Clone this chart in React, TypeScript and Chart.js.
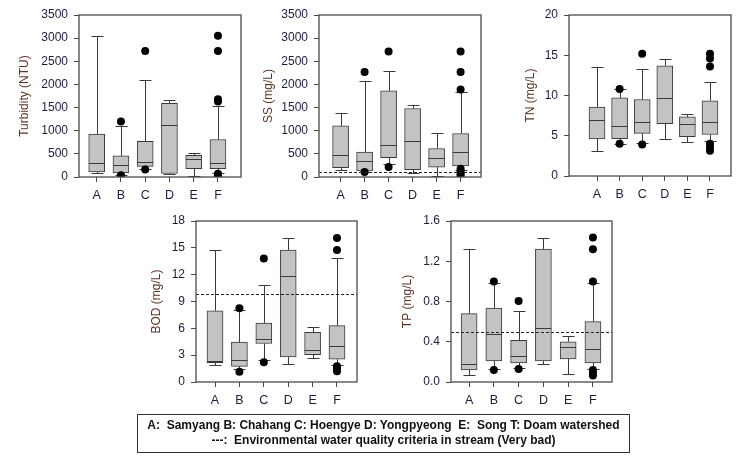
import { useEffect, useRef } from 'react';
import { Chart, registerables } from 'chart.js';

Chart.register(...registerables);

// Sampling sites along the x axis
const categories = ['A', 'B', 'C', 'D', 'E', 'F'];
const categoryPositions = [1, 2, 3, 4, 5, 6];

// Turbidity (NTU)
const turbidityLow = [80, 50, 180, 70, 20, 80];
const turbidityQ1 = [110, 90, 230, 75, 180, 180];
const turbidityMedian = [310, 270, 330, 1120, 380, 310];
const turbidityQ3 = [925, 455, 770, 1590, 470, 810];
const turbidityHigh = [3050, 1110, 2100, 1660, 520, 1540];
const turbidityOutliers = [[], [1200, 40, 15], [2720, 160], [], [], [3050, 2720, 1680, 1630, 70, 40, 10]];

// Suspended solids (mg/L)
const ssLow = [160, 110, 275, 90, 20, 145];
const ssQ1 = [200, 130, 420, 160, 215, 240];
const ssMedian = [475, 335, 690, 770, 420, 530];
const ssQ3 = [1105, 540, 1860, 1480, 615, 940];
const ssHigh = [1390, 2075, 2295, 1550, 960, 1840];
const ssOutliers = [[], [2270, 110], [2710, 215], [], [], [2710, 2270, 1890, 180, 120, 60, 20]];
const ssCriterion = 100;

// Total nitrogen (mg/L)
const tnLow = [3.1, 4.0, 4.1, 4.6, 4.2, 4.3];
const tnQ1 = [4.6, 4.65, 5.3, 6.5, 4.9, 5.15];
const tnMedian = [7.0, 6.15, 6.65, 9.7, 6.4, 6.75];
const tnQ3 = [8.55, 9.7, 9.5, 13.7, 7.35, 9.35];
const tnHigh = [13.5, 10.8, 13.3, 14.5, 7.7, 11.7];
const tnOutliers = [[], [10.8, 4.0], [15.2, 3.9], [], [], [15.2, 14.6, 13.6, 4.0, 3.5, 3.15]];

// Biochemical oxygen demand (mg/L)
const bodLow = [1.85, 1.4, 2.5, 2.05, 2.7, 1.85];
const bodQ1 = [2.15, 1.75, 4.3, 2.8, 3.05, 2.55];
const bodMedian = [2.4, 2.5, 4.8, 11.8, 3.6, 4.0];
const bodQ3 = [7.95, 4.45, 6.6, 14.75, 5.55, 6.3];
const bodHigh = [14.75, 8.0, 10.8, 16.1, 6.1, 13.85];
const bodOutliers = [[], [8.25, 1.15], [13.8, 2.2], [], [], [16.1, 14.75, 1.75, 1.45, 1.2]];
const bodCriterion = 9.8;

// Total phosphorus (mg/L)
const tpLow = [0.065, 0.13, 0.14, 0.175, 0.08, 0.13];
const tpQ1 = [0.12, 0.21, 0.19, 0.21, 0.23, 0.19];
const tpMedian = [0.175, 0.475, 0.255, 0.535, 0.345, 0.325];
const tpQ3 = [0.68, 0.735, 0.415, 1.32, 0.4, 0.6];
const tpHigh = [1.32, 0.98, 0.71, 1.435, 0.46, 0.98];
const tpOutliers = [[], [1.0, 0.12], [0.805, 0.13], [], [], [1.435, 1.32, 1.0, 0.12, 0.1, 0.065]];
const tpCriterion = 0.5;

type Stats = {
  low: number[];
  q1: number[];
  median: number[];
  q3: number[];
  high: number[];
  outliers: number[][];
};

type PanelSpec = {
  title: string;
  canvas: [number, number, number, number]; // x, y, w, h
  plot: [number, number, number, number]; // left, top, right, bottom
  titleX: number;
  xRange: [number, number];
  yMax: number;
  step: number;
  decimals: number;
  stats: Stats;
  criterion: number | null;
};

const LINE = '#3a3a3a';
const BOX_FILL = '#c3c3c3';
const TICK_COLOR = '#1c1c40';
const TITLE_COLOR = '#5e3426';
const FONT = "'Liberation Sans', Arial, sans-serif";
const BOX_WIDTH = 16;
const CAP_WIDTH = 12;

const boxWhiskerPlugin = {
  id: 'boxWhisker',
  beforeDatasetsDraw(chart: any, _args: any, opts: any) {
    const stats: Stats = opts.stats;
    const { ctx, scales } = chart;
    const xs = scales.x;
    const ys = scales.y;
    ctx.save();
    ctx.strokeStyle = LINE;
    ctx.lineWidth = 1;
    categoryPositions.forEach((pos, i) => {
      const cx = Math.round(xs.getPixelForValue(pos)) + 0.5;
      const yLow = Math.round(ys.getPixelForValue(stats.low[i])) + 0.5;
      const yHigh = Math.round(ys.getPixelForValue(stats.high[i])) + 0.5;
      const yQ1 = ys.getPixelForValue(stats.q1[i]);
      const yQ3 = ys.getPixelForValue(stats.q3[i]);
      ctx.beginPath();
      ctx.moveTo(cx, yLow);
      ctx.lineTo(cx, yQ1);
      ctx.moveTo(cx, yQ3);
      ctx.lineTo(cx, yHigh);
      ctx.moveTo(cx - CAP_WIDTH / 2, yLow);
      ctx.lineTo(cx + CAP_WIDTH / 2, yLow);
      ctx.moveTo(cx - CAP_WIDTH / 2, yHigh);
      ctx.lineTo(cx + CAP_WIDTH / 2, yHigh);
      ctx.stroke();
    });
    ctx.restore();
  },
  afterDatasetsDraw(chart: any, _args: any, opts: any) {
    const stats: Stats = opts.stats;
    const { ctx, scales, chartArea } = chart;
    const xs = scales.x;
    const ys = scales.y;
    ctx.save();
    ctx.strokeStyle = LINE;
    ctx.lineWidth = 1;
    // median lines
    categoryPositions.forEach((pos, i) => {
      const cx = xs.getPixelForValue(pos);
      const ym = Math.round(ys.getPixelForValue(stats.median[i])) + 0.5;
      ctx.beginPath();
      ctx.moveTo(cx - BOX_WIDTH / 2, ym);
      ctx.lineTo(cx + BOX_WIDTH / 2, ym);
      ctx.stroke();
    });
    // water quality criterion
    if (opts.criterion != null) {
      const yc = Math.round(ys.getPixelForValue(opts.criterion)) + 0.5;
      ctx.setLineDash([3, 2]);
      ctx.strokeStyle = '#222';
      ctx.beginPath();
      ctx.moveTo(chartArea.left, yc);
      ctx.lineTo(chartArea.right, yc);
      ctx.stroke();
      ctx.setLineDash([]);
    }
    // plot frame
    ctx.strokeStyle = '#4a4a4a';
    ctx.lineWidth = 1.3;
    ctx.strokeRect(chartArea.left, chartArea.top, chartArea.right - chartArea.left, chartArea.bottom - chartArea.top);
    ctx.restore();
  },
};

function BoxPanel({ spec }: { spec: PanelSpec }) {
  const ref = useRef<HTMLCanvasElement | null>(null);
  useEffect(() => {
    const canvas = ref.current;
    if (!canvas) return;
    const [cx, cy, cw, ch] = spec.canvas;
    const [pl, pt, pr, pb] = spec.plot;
    const padLeft = spec.titleX - 11.2 - cx;
    const s = spec.stats;
    const chart = new Chart(canvas, {
      type: 'bar',
      data: {
        datasets: [
          {
            type: 'bar',
            data: categoryPositions.map((p, i) => ({ x: p, y: [s.q1[i], s.q3[i]] })) as any,
            backgroundColor: BOX_FILL,
            borderColor: LINE,
            borderWidth: 1,
            borderSkipped: false,
            barThickness: BOX_WIDTH,
          } as any,
          {
            type: 'scatter',
            order: -1,
            data: categoryPositions.flatMap((p, i) => s.outliers[i].map((v) => ({ x: p, y: v }))),
            backgroundColor: '#000',
            borderWidth: 0,
            pointRadius: 4,
          } as any,
        ],
      },
      options: {
        animation: false,
        responsive: false,
        devicePixelRatio: 1,
        layout: {
          padding: { left: padLeft, top: pt - cy, right: cx + cw - pr, bottom: 0 },
        },
        plugins: {
          legend: { display: false },
          tooltip: { enabled: false },
          boxWhisker: { stats: s, criterion: spec.criterion },
        } as any,
        scales: {
          x: {
            type: 'linear',
            min: spec.xRange[0],
            max: spec.xRange[1],
            offset: false,
            grid: { display: true, drawOnChartArea: false, drawTicks: true, tickLength: 5, color: '#4a4a4a', offset: false },
            border: { display: false },
            afterBuildTicks: (scale: any) => {
              scale.ticks = categoryPositions.map((v) => ({ value: v }));
            },
            afterFit: (scale: any) => {
              scale.height = cy + ch - pb;
            },
            ticks: {
              autoSkip: false,
              maxRotation: 0,
              padding: 6,
              color: TICK_COLOR,
              font: { family: FONT, size: 12.5 },
              callback: (_v: any, idx: number) => categories[idx],
            },
          },
          y: {
            type: 'linear',
            min: 0,
            max: spec.yMax,
            grid: { display: true, drawOnChartArea: false, drawTicks: true, tickLength: 5, color: '#4a4a4a' },
            border: { display: false },
            afterFit: (scale: any) => {
              scale.width = pl - cx - padLeft;
            },
            title: {
              display: true,
              text: spec.title,
              color: TITLE_COLOR,
              font: { family: FONT, size: 12 },
              padding: { top: 4, bottom: 4 },
            },
            ticks: {
              stepSize: spec.step,
              padding: 6,
              color: TICK_COLOR,
              font: { family: FONT, size: 12 },
              callback: (v: any) => Number(v).toFixed(spec.decimals),
            },
          },
        },
      },
      plugins: [boxWhiskerPlugin as any],
    });
    return () => chart.destroy();
  }, [spec]);
  const [cx, cy, cw, ch] = spec.canvas;
  return (
    <canvas
      ref={ref}
      width={cw}
      height={ch}
      style={{ position: 'absolute', left: cx, top: cy, width: cw, height: ch }}
    />
  );
}

const panels: PanelSpec[] = [
  {
    title: 'Turbidity (NTU)',
    canvas: [0, 0, 245, 210],
    plot: [79, 15, 241, 177],
    titleX: 25,
    xRange: [0.27, 6.95],
    yMax: 3500,
    step: 500,
    decimals: 0,
    stats: { low: turbidityLow, q1: turbidityQ1, median: turbidityMedian, q3: turbidityQ3, high: turbidityHigh, outliers: turbidityOutliers },
    criterion: null,
  },
  {
    title: 'SS (mg/L)',
    canvas: [245, 0, 245, 210],
    plot: [319, 15, 481, 177],
    titleX: 269,
    xRange: [0.1, 6.85],
    yMax: 3500,
    step: 500,
    decimals: 0,
    stats: { low: ssLow, q1: ssQ1, median: ssMedian, q3: ssQ3, high: ssHigh, outliers: ssOutliers },
    criterion: ssCriterion,
  },
  {
    title: 'TN (mg/L)',
    canvas: [490, 0, 253, 210],
    plot: [569, 15, 731, 176],
    titleX: 531,
    xRange: [-0.24, 6.93],
    yMax: 20,
    step: 5,
    decimals: 0,
    stats: { low: tnLow, q1: tnQ1, median: tnMedian, q3: tnQ3, high: tnHigh, outliers: tnOutliers },
    criterion: null,
  },
  {
    title: 'BOD (mg/L)',
    canvas: [130, 205, 250, 205],
    plot: [196, 221, 357, 382],
    titleX: 157,
    xRange: [0.22, 6.82],
    yMax: 18,
    step: 3,
    decimals: 0,
    stats: { low: bodLow, q1: bodQ1, median: bodMedian, q3: bodQ3, high: bodHigh, outliers: bodOutliers },
    criterion: bodCriterion,
  },
  {
    title: 'TP (mg/L)',
    canvas: [380, 205, 260, 205],
    plot: [451, 221, 612, 382],
    titleX: 408,
    xRange: [0.27, 6.77],
    yMax: 1.6,
    step: 0.4,
    decimals: 1,
    stats: { low: tpLow, q1: tpQ1, median: tpMedian, q3: tpQ3, high: tpHigh, outliers: tpOutliers },
    criterion: tpCriterion,
  },
];

export default function App() {
  return (
    <div style={{ position: 'absolute', left: 0, top: 0, width: 743, height: 462, background: '#fff', overflow: 'hidden' }}>
      {panels.map((p) => (
        <BoxPanel key={p.title} spec={p} />
      ))}
      <div
        style={{
          position: 'absolute',
          left: 137,
          top: 414,
          width: 493,
          height: 39,
          boxSizing: 'border-box',
          border: '1px solid #333',
          fontFamily: FONT,
          fontWeight: 'bold',
          fontSize: 12,
          lineHeight: '15px',
          textAlign: 'center',
          color: '#111',
          paddingTop: 3,
          whiteSpace: 'pre',
        }}
      >
        <div>{'A:  Samyang B: Chahang C: Hoengye D: Yongpyeong  E:  Song T: Doam watershed'}</div>
        <div>{'---:  Environmental water quality criteria in stream (Very bad)'}</div>
      </div>
    </div>
  );
}
